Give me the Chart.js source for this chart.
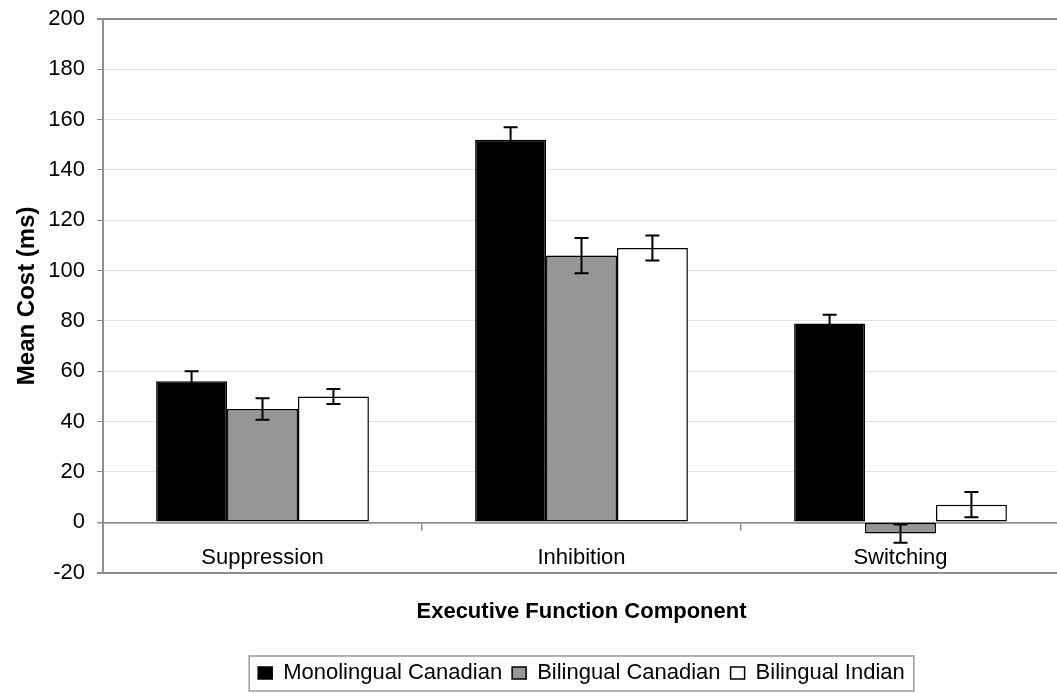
<!DOCTYPE html>
<html>
<head>
<meta charset="utf-8">
<script src="https://cdn.jsdelivr.net/npm/chart.js@4.4.0/dist/chart.umd.min.js"></script>
<style>
  html, body { margin: 0; padding: 0; background: #fff; overflow: hidden; }
  #wrap { width: 1057px; height: 694px; overflow: hidden; }
</style>
</head>
<body>
<div id="wrap"><canvas id="costChart" width="1062" height="694"></canvas></div>
<script>
// data
const components = ['Suppression', 'Inhibition', 'Switching'];
const monoCanadian = [56, 152, 79];
const monoCanadianErr = [4, 5, 3.5];
const biCanadian = [45, 106, -4.5];
const biCanadianErr = [4.3, 7, 3.6];
const biIndian = [50, 109, 7];
const biIndianErr = [3, 5, 5];
const yTicks = [-20, 0, 20, 40, 60, 80, 100, 120, 140, 160, 180, 200];

const FONT = '"Liberation Sans", Arial, sans-serif';
const AXIS_GRAY = '#8f8f8f';

// draws +/- error bars on each bar
const errorBars = {
  id: 'errorBars',
  afterDatasetsDraw(chart) {
    const ctx = chart.ctx;
    const yScale = chart.scales.y;
    chart.data.datasets.forEach((ds, di) => {
      const meta = chart.getDatasetMeta(di);
      meta.data.forEach((bar, i) => {
        const v = ds.data[i], e = ds.errors[i];
        const top = yScale.getPixelForValue(v + e);
        const bot = yScale.getPixelForValue(v - e);
        const cap = 7;
        ctx.save();
        ctx.strokeStyle = '#000';
        ctx.lineWidth = 2;
        ctx.beginPath();
        ctx.moveTo(bar.x, top); ctx.lineTo(bar.x, bot);
        ctx.moveTo(bar.x - cap, top); ctx.lineTo(bar.x + cap, top);
        ctx.moveTo(bar.x - cap, bot); ctx.lineTo(bar.x + cap, bot);
        ctx.stroke();
        ctx.restore();
      });
    });
  }
};

// box round the legend like the excel one
const legendFrame = {
  id: 'legendFrame',
  afterDraw(chart) {
    const boxes = chart.legend && chart.legend.legendHitBoxes;
    if (!boxes || !boxes.length) return;
    const left = Math.min(...boxes.map(b => b.left)) - 9;
    const right = Math.max(...boxes.map(b => b.left + b.width)) + 9;
    const mid = boxes[0].top + boxes[0].height / 2;
    const ctx = chart.ctx;
    ctx.save();
    ctx.strokeStyle = '#9a9a9a';
    ctx.lineWidth = 1.5;
    ctx.strokeRect(left, mid - 17, right - left, 35);
    ctx.restore();
  }
};

const ctx = document.getElementById('costChart').getContext('2d');
new Chart(ctx, {
  type: 'bar',
  data: {
    labels: components,
    datasets: [
      { label: 'Monolingual Canadian', data: monoCanadian, errors: monoCanadianErr,
        backgroundColor: '#000000', borderColor: '#000000' },
      { label: 'Bilingual Canadian', data: biCanadian, errors: biCanadianErr,
        backgroundColor: '#969696', borderColor: '#000000' },
      { label: 'Bilingual Indian', data: biIndian, errors: biIndianErr,
        backgroundColor: '#ffffff', borderColor: '#000000' }
    ]
  },
  options: {
    responsive: false,
    animation: false,
    layout: { padding: { top: 19, right: 2, bottom: 0, left: 0 } },
    datasets: {
      bar: {
        categoryPercentage: 0.667,
        barPercentage: 1.0,
        borderWidth: 1.5,
        borderSkipped: false
      }
    },
    scales: {
      x: {
        position: { y: 0 },
        offset: true,
        grid: {
          offset: true,
          drawOnChartArea: false,
          drawTicks: true,
          tickLength: 7,
          tickColor: AXIS_GRAY,
          lineWidth: 1.5
        },
        border: { display: true, color: AXIS_GRAY, width: 1.5 },
        ticks: { color: '#000', padding: 15, font: { family: FONT, size: 22 } }
      },
      y: {
        min: -20,
        max: 200,
        afterBuildTicks(scale) { scale.ticks = yTicks.map(v => ({ value: v })); },
        afterFit(scale) { scale.width = 103; scale.paddingTop = 0; },
        grid: {
          color: c => (c.tick && [-20, 0, 200].includes(c.tick.value)) ? AXIS_GRAY : '#e2e2e2',
          lineWidth: c => (c.tick && [-20, 200].includes(c.tick.value)) ? 2 : (c.tick && c.tick.value === 0 ? 1.5 : 1),
          tickColor: AXIS_GRAY,
          tickLength: 6
        },
        border: { display: true, color: AXIS_GRAY, width: 2 },
        ticks: { color: '#000', padding: 12, font: { family: FONT, size: 22 } },
        title: {
          display: true,
          text: 'Mean Cost (ms)',
          color: '#000',
          padding: { top: 13, bottom: 0 },
          font: { family: FONT, size: 24, weight: 'bold' }
        }
      }
    },
    plugins: {
      title: {
        display: true,
        position: 'bottom',
        fullSize: false,
        weight: 500,
        text: 'Executive Function Component',
        color: '#000',
        padding: { top: 26, bottom: 27 },
        font: { family: FONT, size: 22, weight: 'bold' }
      },
      legend: {
        position: 'bottom',
        fullSize: false,
        weight: 1000,
        labels: {
          color: '#000',
          boxWidth: 14,
          boxHeight: 12,
          padding: 10,
          font: { family: FONT, size: 22 }
        }
      },
      tooltip: { enabled: false }
    }
  },
  plugins: [errorBars, legendFrame]
});
</script>
</body>
</html>
